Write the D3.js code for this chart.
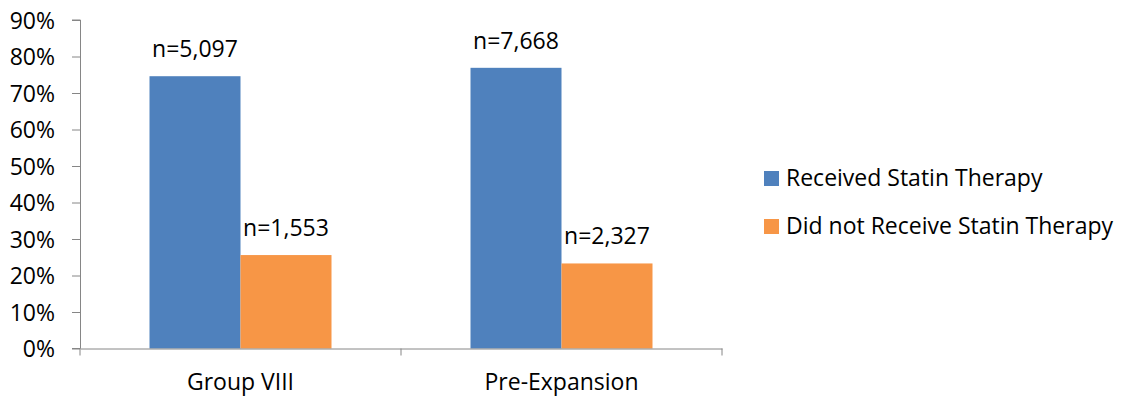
<!DOCTYPE html>
<html>
<head>
<meta charset="utf-8">
<script src="https://cdn.jsdelivr.net/npm/d3@7"></script>
<style>
  html, body { margin: 0; padding: 0; background: #fff; }
  svg text { font-family: "Open Sans", sans-serif; fill: #000; }
</style>
</head>
<body>
<div id="chart"></div>
<script>
// Share of patients by statin therapy status, per cohort
const categories = ["Group VIII", "Pre-Expansion"];
const seriesNames = ["Received Statin Therapy", "Did not Receive Statin Therapy"];
const receivedPct = [74.6, 76.9];
const notReceivedPct = [25.6, 23.3];
const receivedN = ["n=5,097", "n=7,668"];
const notReceivedN = ["n=1,553", "n=2,327"];
const yTicks = [0, 10, 20, 30, 40, 50, 60, 70, 80, 90];
const colors = ["#4F81BD", "#F79646"];

const width = 1122, height = 396;
const plot = { left: 80, right: 722, top: 20, bottom: 348.5 };
const fontSize = 23;

const rows = categories.map((c, i) => ({
  category: c,
  values: [
    { series: seriesNames[0], value: receivedPct[i], label: receivedN[i] },
    { series: seriesNames[1], value: notReceivedPct[i], label: notReceivedN[i] }
  ]
}));

const svg = d3.select("#chart").append("svg")
  .attr("width", width).attr("height", height);

const x0 = d3.scaleBand().domain(categories)
  .range([plot.left, plot.right]).paddingInner(0).paddingOuter(0);
const x1 = d3.scaleBand().domain(seriesNames)
  .range([0, x0.bandwidth()]).paddingInner(0).paddingOuter(0.7637);
const y = d3.scaleLinear().domain([0, 90]).range([plot.bottom, plot.top]);
const color = d3.scaleOrdinal().domain(seriesNames).range(colors);

const axisColor = "#868686";

// Bars
const groups = svg.append("g").selectAll("g").data(rows).join("g")
  .attr("transform", d => `translate(${x0(d.category)},0)`);

groups.selectAll("rect").data(d => d.values).join("rect")
  .attr("x", d => x1(d.series))
  .attr("width", x1.bandwidth())
  .attr("y", d => y(d.value))
  .attr("height", d => y(0) - y(d.value))
  .attr("fill", d => color(d.series));

// Count labels above bars
groups.selectAll("text").data(d => d.values).join("text")
  .attr("x", d => x1(d.series) + x1.bandwidth() / 2)
  .attr("y", d => y(d.value) - 19)
  .attr("text-anchor", "middle")
  .attr("font-size", fontSize)
  .text(d => d.label);

// Y axis
const yAxis = svg.append("g")
  .attr("transform", `translate(${plot.left},0)`)
  .call(d3.axisLeft(y).tickValues(yTicks).tickFormat(d => d + "%").tickSize(8).tickSizeOuter(8));
yAxis.select(".domain").attr("stroke", axisColor).attr("d", `M-8,${y(90)}H0.5V${y(0)}H-8`);
yAxis.selectAll(".tick line").attr("stroke", axisColor);
yAxis.selectAll(".tick text").attr("font-size", fontSize).attr("x", -25).attr("dy", "0.35em")
  .attr("fill", "#000");

// X axis
const xAxis = svg.append("g")
  .attr("transform", `translate(0,${plot.bottom})`)
  .call(d3.axisBottom(x0).tickSize(0).tickSizeOuter(0));
xAxis.select(".domain").attr("stroke", axisColor);
xAxis.selectAll(".tick text").attr("font-size", fontSize).attr("y", 41).attr("dy", 0).attr("fill", "#000");
// Category boundary ticks
const boundaries = [plot.left, ...categories.map(c => x0(c) + x0.bandwidth())];
xAxis.selectAll("line.bound").data(boundaries).join("line")
  .attr("class", "bound")
  .attr("x1", d => d).attr("x2", d => d)
  .attr("y1", 0).attr("y2", 7)
  .attr("stroke", axisColor);

// Legend
const legend = svg.append("g").attr("transform", "translate(764,171)");
const items = legend.selectAll("g").data(seriesNames).join("g")
  .attr("transform", (d, i) => `translate(0,${i * 48})`);
items.append("rect").attr("width", 15).attr("height", 15).attr("fill", d => color(d));
items.append("text").attr("x", 22).attr("y", 15).attr("font-size", fontSize).text(d => d);
</script>
</body>
</html>
